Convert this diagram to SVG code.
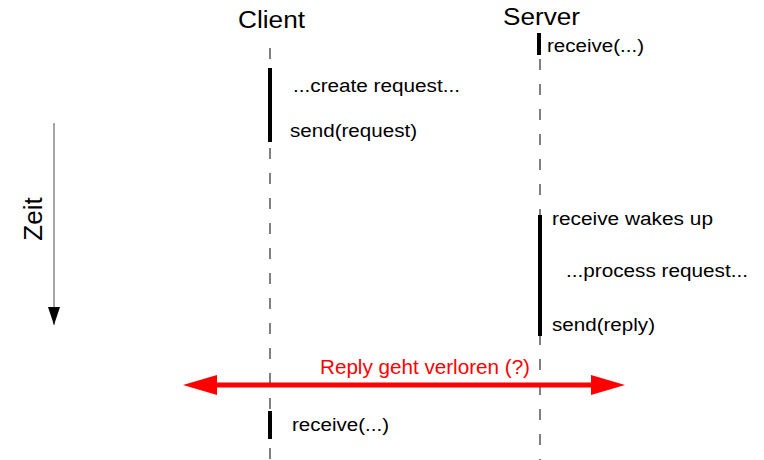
<svg xmlns="http://www.w3.org/2000/svg" width="764" height="460" viewBox="0 0 764 460">
<style>
text{font-family:"Liberation Sans",Arial,sans-serif;fill:#000}
.h{font-size:23px}
.t{font-size:18px}
.life{stroke:#000;stroke-width:1;stroke-dasharray:11 14;fill:none}
.bar{fill:#000}
</style>
<defs>
<marker id="ah" viewBox="0 0 18 12" refX="18" refY="6" markerWidth="18" markerHeight="12" markerUnits="userSpaceOnUse" orient="auto"><path d="M0,0 L18,6 L0,12 z" fill="#000"/></marker>
</defs>
<rect width="764" height="460" fill="#fff"/>
<g id="client">
<text class="h" x="238" y="28" textLength="67" lengthAdjust="spacingAndGlyphs">Client</text>
<line class="life" x1="270" y1="48" x2="270" y2="460"/>
<rect class="bar" x="268" y="68" width="4" height="74"/>
<text class="t" x="293" y="92" textLength="167" lengthAdjust="spacingAndGlyphs">...create request...</text>
<text class="t" x="290" y="137" textLength="127" lengthAdjust="spacingAndGlyphs">send(request)</text>
<rect class="bar" x="268" y="411" width="4" height="28"/>
<text class="t" x="292" y="431" textLength="97" lengthAdjust="spacingAndGlyphs">receive(...)</text>
</g>
<g id="server">
<text class="h" x="503" y="25" textLength="77" lengthAdjust="spacingAndGlyphs">Server</text>
<line class="life" x1="540" y1="57" x2="540" y2="460" stroke-dashoffset="-2"/>
<rect class="bar" x="537" y="33" width="4" height="22"/>
<text class="t" x="547" y="52" textLength="97" lengthAdjust="spacingAndGlyphs">receive(...)</text>
<rect class="bar" x="538" y="215" width="4" height="121"/>
<text class="t" x="552" y="225" textLength="161" lengthAdjust="spacingAndGlyphs">receive wakes up</text>
<text class="t" x="566" y="277" textLength="182" lengthAdjust="spacingAndGlyphs">...process request...</text>
<text class="t" x="552" y="331" textLength="103" lengthAdjust="spacingAndGlyphs">send(reply)</text>
</g>
<g id="time">
<line x1="54" y1="123" x2="54" y2="325" stroke="#888" stroke-width="1.5" marker-end="url(#ah)"/>
<text font-size="26" text-anchor="middle" transform="translate(42,219) rotate(-90)" x="0" y="0">Zeit</text>
</g>
<g id="connectors">
<line x1="214" y1="385" x2="594" y2="385" stroke="#f00" stroke-width="5"/>
<path d="M183,385 L217,375 L217,395 z" fill="#f00"/>
<path d="M625,385 L591,375 L591,395 z" fill="#f00"/>
<text x="320" y="374" font-size="20" textLength="210" lengthAdjust="spacingAndGlyphs" style="fill:#f00">Reply geht verloren (?)</text>
</g>
</svg>
